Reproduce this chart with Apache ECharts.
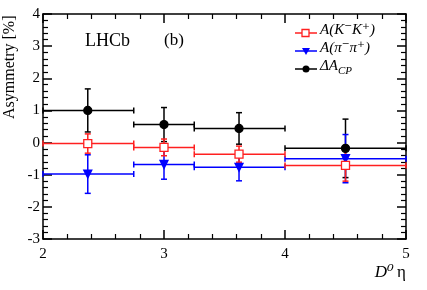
<!DOCTYPE html>
<html><head><meta charset="utf-8">
<script src="https://cdn.jsdelivr.net/npm/echarts@6/dist/echarts.min.js"></script>
<style>html,body{margin:0;padding:0;background:#fff}#c{width:427px;height:290px}</style>
</head><body><div id="c"></div>
<script>
const binLow = [2, 2.75, 3.25, 4];
const binHigh = [2.75, 3.25, 4, 5];
const etaCenter = [2.37, 3.0, 3.62, 4.5];
const kkVal = [-0.03, -0.15, -0.36, -0.71];
const kkErr = [0.3, 0.26, 0.25, 0.49];
const pipiVal = [-0.98, -0.68, -0.77, -0.5];
const pipiErr = [0.6, 0.46, 0.42, 0.75];
const dacpVal = [1.0, 0.56, 0.44, -0.18];
const dacpErr = [0.67, 0.53, 0.49, 0.91];
const xTicks = [2, 3, 4, 5];
const yTicks = [-3, -2, -1, 0, 1, 2, 3, 4];

const FONT = '"Liberation Serif", "DejaVu Serif", serif';
const chart = echarts.init(document.getElementById('c'));

function build(vals, errs) {
  return vals.map((v, i) => [etaCenter[i], v, binLow[i], binHigh[i], errs[i]]);
}
function errRender(color) {
  return function (params, api) {
    const x = api.value(0), y = api.value(1), lo = api.value(2), hi = api.value(3), e = api.value(4);
    const pL = api.coord([lo, y]), pR = api.coord([hi, y]);
    const pT = api.coord([x, y + e]), pB = api.coord([x, y - e]);
    const st = { stroke: color, lineWidth: 1.5 };
    const c = 3;
    const L = (x1, y1, x2, y2) => ({ type: 'line', shape: { x1, y1, x2, y2 }, style: st });
    return { type: 'group', children: [
      L(pL[0], pL[1], pR[0], pR[1]),
      L(pL[0], pL[1] - c, pL[0], pL[1] + c),
      L(pR[0], pR[1] - c, pR[0], pR[1] + c),
      L(pT[0], pT[1], pB[0], pB[1]),
      L(pT[0] - c, pT[1], pT[0] + c, pT[1]),
      L(pB[0] - c, pB[1], pB[0] + c, pB[1])
    ]};
  };
}
const axisCommon = {
  axisLine: { onZero: false, lineStyle: { color: '#000', width: 1.5 } },
  axisTick: { inside: true, length: 9, lineStyle: { color: '#000', width: 1.5 } },
  minorTick: { show: true, splitNumber: 5, length: 5, lineStyle: { color: '#000', width: 1.2 } },
  splitLine: { show: false }
};
const series = [];
const sets = [
  { name: 'dacp', data: build(dacpVal, dacpErr), color: '#000', symbol: 'circle', size: 8, fill: '#000', rot: 0 },
  { name: 'pipi', data: build(pipiVal, pipiErr), color: '#0000ff', symbol: 'triangle', size: 8, fill: '#0000ff', rot: 180 },
  { name: 'kk', data: build(kkVal, kkErr), color: '#ff2020', symbol: 'rect', size: 8, fill: '#fff', rot: 0 }
];
sets.forEach((s, k) => {
  series.push({ type: 'custom', renderItem: errRender(s.color), data: s.data, z: 2 + k, encode: { x: 0, y: 1 } });
  series.push({ type: 'scatter', data: s.data.map(d => [d[0], d[1]]), symbol: s.symbol, symbolSize: s.size, symbolRotate: s.rot,
    itemStyle: { color: s.fill, borderColor: s.color, borderWidth: 1.3, opacity: 1 }, z: 10 + k });
});

const legendRows = [
  { y: 33, color: '#ff2020', symbol: 'rect', text: '{t|A(K⁻K⁺)}' },
  { y: 51, color: '#0000ff', symbol: 'tri', text: '{t|A(π⁻π⁺)}' },
  { y: 69, color: '#000', symbol: 'circle', text: '{t|ΔA}{s|CP}' }
];
const graphic = [];
legendRows.forEach(r => {
  graphic.push({ type: 'line', shape: { x1: 295, y1: r.y, x2: 317, y2: r.y }, style: { stroke: r.color, lineWidth: 1.5 } });
  if (r.symbol === 'rect') graphic.push({ type: 'rect', shape: { x: 302, y: r.y - 3.5, width: 7, height: 7 }, style: { fill: '#fff', stroke: r.color, lineWidth: 1.3 } });
  if (r.symbol === 'tri') graphic.push({ type: 'polygon', shape: { points: [[302, r.y - 3], [310, r.y - 3], [306, r.y + 4]] }, style: { fill: r.color } });
  if (r.symbol === 'circle') graphic.push({ type: 'circle', shape: { cx: 306, cy: r.y, r: 3.5 }, style: { fill: r.color } });
  graphic.push({ type: 'text', left: 320, top: r.y - 10, style: { text: r.text, rich: {
    t: { fontFamily: FONT, fontSize: 15, fontStyle: 'italic', fill: '#000' },
    s: { fontFamily: FONT, fontSize: 11, fontStyle: 'italic', fill: '#000', padding: [10, 0, 0, 0] }
  } } });
});
graphic.push({ type: 'text', left: 85, top: 32, style: { text: 'LHCb', fontFamily: FONT, fontSize: 18, fill: '#000' } });
graphic.push({ type: 'text', left: 164, top: 32, style: { text: '(b)', fontFamily: FONT, fontSize: 17, fill: '#000' } });
graphic.push({ type: 'text', x: 2, y: 119, rotation: Math.PI / 2, style: { text: 'Asymmetry [%]', fontFamily: FONT, fontSize: 16, fill: '#000' } });
graphic.push({ type: 'text', right: 21, top: 264, style: { text: '{i|D⁰} {n|η}', rich: {
  i: { fontFamily: FONT, fontSize: 17, fontStyle: 'italic', fill: '#000' },
  n: { fontFamily: FONT, fontSize: 17, fill: '#000' } } } });

chart.setOption({
  animation: false,
  grid: { left: 43, right: 21, top: 14, bottom: 51 },
  xAxis: [
    Object.assign({ type: 'value', min: 2, max: 5, interval: 1, position: 'bottom',
      axisLabel: { color: '#000', fontFamily: FONT, fontSize: 15, margin: 8 } }, axisCommon),
    Object.assign({ type: 'value', min: 2, max: 5, interval: 1, position: 'top', axisLabel: { show: false } }, axisCommon)
  ],
  yAxis: [
    Object.assign({ type: 'value', min: -3, max: 4, interval: 1, position: 'left',
      axisLabel: { color: '#000', fontFamily: FONT, fontSize: 15, margin: 3 } }, axisCommon),
    Object.assign({ type: 'value', min: -3, max: 4, interval: 1, position: 'right', axisLabel: { show: false } }, axisCommon)
  ],
  series: series,
  graphic: graphic
});
</script></body></html>
